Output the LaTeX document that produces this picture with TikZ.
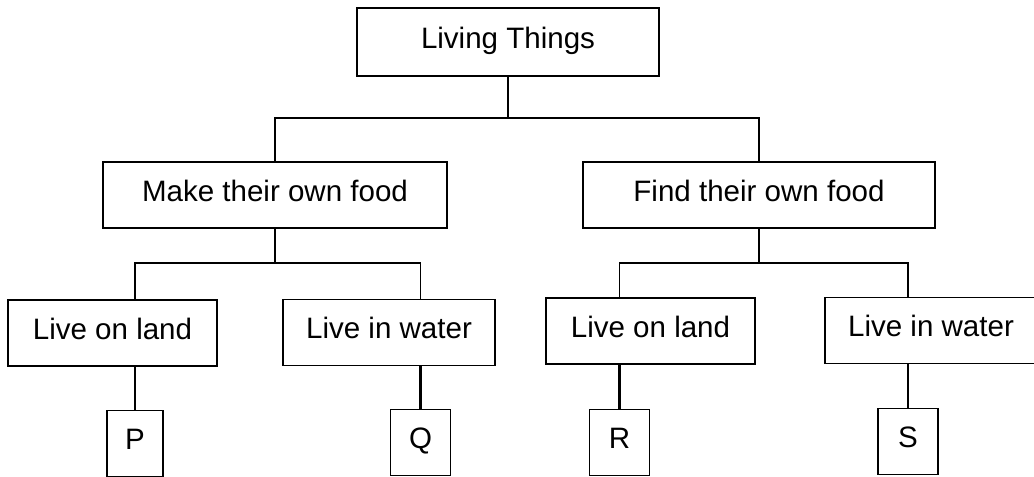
\documentclass[tikz,border=0pt]{standalone}
\usepackage{fontspec}
\setmainfont{Liberation Sans}
\usepackage{tikz}
\usetikzlibrary{positioning, calc}

\begin{document}
\begin{tikzpicture}[
        x=0.025cm, y=-0.025cm,
        font=\fontsize{21}{25}\selectfont,
        % Estilos de las cajas
        box/.style={
            rectangle,
            draw=black,
            line width=1.4pt,
            minimum height=1.65cm,
            text height=15pt,
            text depth=6pt,
            inner sep=0pt
        },
        wide/.style={box, minimum width=#1},
        letter/.style={box, minimum width=1.5cm},
        % Estilos de las lineas
        link/.style={line width=0.9pt, color=black},
        stem/.style={line width=2pt, color=black}
    ]
    \useasboundingbox (0,0) rectangle (1034,477);

    % -- Fila Superior --
    \node[wide=7.53cm, minimum height=1.7cm] (living) at (508,42) {Living Things};

    % -- Fila Central --
    \node[wide=8.6cm] (make) at (275,195) {Make their own food};
    \node[wide=8.8cm] (find) at (759,195) {Find their own food};

    % -- Fila de Habitat --
    \node[wide=5.23cm] (landA) at (112.5,333) {Live on land};
    \node[wide=5.3cm] (waterA) at (389,332.5) {Live in water};
    \node[wide=5.23cm] (landB) at (650.5,331) {Live on land};
    \node[wide=5.3cm] (waterB) at (931,330.5) {Live in water};

    % -- Fila Inferior --
    \node[letter, minimum width=1.4cm] (p) at (135,443.5) {P};
    \node[letter] (q) at (420.5,442.5) {Q};
    \node[letter] (r) at (619.5,442.5) {R};
    \node[letter] (s) at (908,441.5) {S};

    % -- Uniones --
    \coordinate (jtop) at (508,118);
    \coordinate (jmake) at (275,263);
    \coordinate (jfind) at (759,263);

    \draw[link] (living.south) -- (jtop);
    \draw[link] (make.north) |- (jtop) -| (find.north);

    \draw[link] (make.south) -- (jmake);
    \draw[link] (p.north |- landA.north) |- (jmake) -| (q.north |- waterA.north);

    \draw[link] (find.south) -- (jfind);
    \draw[link] (r.north |- landB.north) |- (jfind) -| (s.north |- waterB.north);

    % -- Hojas --
    \draw[stem] (p.north |- landA.south) -- (p.north);
    \draw[stem] (q.north |- waterA.south) -- (q.north);
    \draw[stem] (r.north |- landB.south) -- (r.north);
    \draw[stem] (s.north |- waterB.south) -- (s.north);

    \end{tikzpicture}
\end{document}
